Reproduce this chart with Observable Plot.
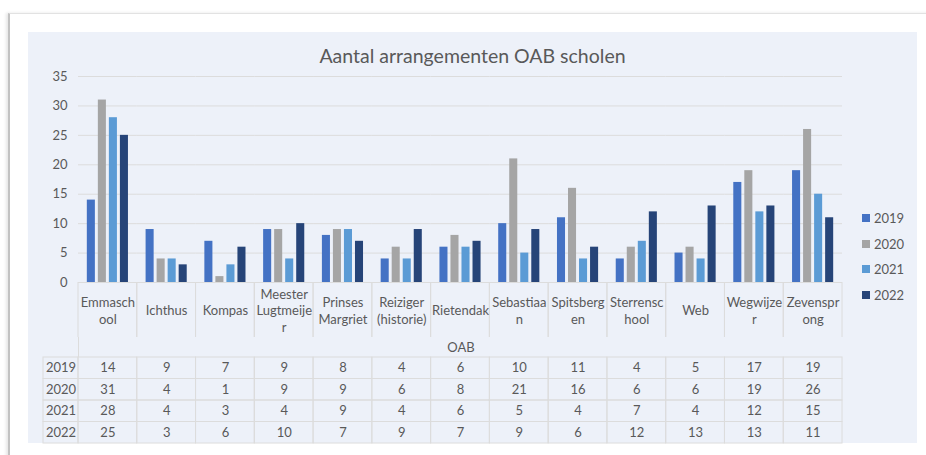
<!DOCTYPE html>
<html><head><meta charset="utf-8">
<script src="https://cdn.jsdelivr.net/npm/d3@7"></script>
<script src="https://cdn.jsdelivr.net/npm/@observablehq/plot@0.6"></script>
<style>
body{margin:0;background:#fff;width:926px;height:455px;overflow:hidden;position:relative;font-family:Lato,sans-serif;color:#595959;}
#frame{position:absolute;left:8px;top:13px;width:940px;height:460px;border-left:2px solid #c2c2c2;border-top:1px solid #e2e2e2;box-shadow:-2px 0 3px rgba(0,0,0,0.10);}
#bg{position:absolute;left:28px;top:32px;width:889px;height:411px;background:#edf1f9;}
.abs{position:absolute;}
#title{left:28px;width:889px;top:44px;text-align:center;font-size:19.5px;color:#595959;white-space:nowrap;}
#oab{left:78px;top:337px;width:764px;height:20px;line-height:20px;border-left:1px solid #dcdcdc;text-align:center;font-size:13px;}
#legend{left:862px;top:205px;font-size:13px;}
#legend .it{height:25.7px;display:flex;align-items:center;}
#legend .sw{width:8px;height:8px;margin-right:4px;}
</style></head>
<body>
<div id="frame"></div>
<div id="bg"></div>
<div id="title" class="abs">Aantal arrangementen OAB scholen</div>
<div id="pB" class="abs" style="left:28px;top:282px"></div>
<div id="oab" class="abs">OAB</div>
<div id="pC" class="abs" style="left:28px;top:356px"></div>
<div id="pD" class="abs" style="left:42px;top:356px"></div>
<div id="pA" class="abs" style="left:28px;top:66px"></div>
<div id="legend" class="abs"></div>
<script>
const schools = ["Emmaschool","Ichthus","Kompas","Meester Lugtmeijer","Prinses Margriet","Reiziger (historie)","Rietendak","Sebastiaan","Spitsbergen","Sterrenschool","Web","Wegwijzer","Zevensprong"];
const schoolLabels = ["Emmasch\nool","Ichthus","Kompas","Meester\nLugtmeije\nr","Prinses\nMargriet","Reiziger\n(historie)","Rietendak","Sebastiaa\nn","Spitsberg\nen","Sterrensc\nhool","Web","Wegwijze\nr","Zevenspr\nong"];
const years = ["2019","2020","2021","2022"];
const v2019 = [14,9,7,9,8,4,6,10,11,4,5,17,19];
const v2020 = [31,4,1,9,9,6,8,21,16,6,6,19,26];
const v2021 = [28,4,3,4,9,4,6,5,4,7,4,12,15];
const v2022 = [25,3,6,10,7,9,7,9,6,12,13,13,11];
const colors = ["#4472c4","#a5a5a5","#5b9bd5","#264478"];
const yTicks = [0,5,10,15,20,25,30,35];

const series = [v2019, v2020, v2021, v2022];
const tidy = schools.flatMap((s, i) => years.map((y, j) => ({school: s, year: y, value: series[j][i]})));
const grid = "#dcdcdc";
const style = {background: "transparent", fontFamily: "Lato", fontSize: "13px", color: "#595959"};

const A = Plot.plot({
  width: 889, height: 226, marginLeft: 50, marginRight: 75, marginTop: 10, marginBottom: 10,
  style,
  fx: {domain: schools, padding: 0, axis: null, round: false},
  x: {domain: years, paddingInner: 0.27, paddingOuter: 0.8, axis: null, round: false},
  y: {domain: [0, 35], label: null},
  color: {domain: years, range: colors},
  marks: [
    Plot.gridY(yTicks, {stroke: grid, strokeOpacity: 1}),
    Plot.axisY(yTicks, {tickSize: 0, tickPadding: 11, label: null}),
    Plot.barY(tidy, {fx: "school", x: "year", y: "value", fill: "year"})
  ]
});
document.getElementById("pA").append(A);

const B = Plot.plot({
  width: 889, height: 55, marginLeft: 50, marginRight: 75, marginTop: 0, marginBottom: 0,
  style,
  x: {domain: schools, padding: 0, axis: null, round: false},
  marks: [
    Plot.cell(schools, {x: d => d, fill: "none", stroke: grid, insetBottom: -3}),
    Plot.text(schools, {x: d => d, text: (d, i) => schoolLabels[i], lineHeight: 1.27, fill: "#595959"})
  ]
});
document.getElementById("pB").append(B);

const C = Plot.plot({
  width: 889, height: 88, marginLeft: 50, marginRight: 75, marginTop: 1, marginBottom: 1,
  style,
  x: {domain: schools, padding: 0, axis: null, round: false},
  y: {domain: years, padding: 0, axis: null, round: false},
  marks: [
    Plot.cell(tidy, {x: "school", y: "year", fill: "none", stroke: grid}),
    Plot.text(tidy, {x: "school", y: "year", text: "value", fill: "#595959"})
  ]
});
document.getElementById("pC").append(C);

const D = Plot.plot({
  width: 37, height: 88, marginLeft: 1, marginRight: 1, marginTop: 1, marginBottom: 1,
  style,
  y: {domain: years, padding: 0, axis: null, round: false},
  marks: [
    Plot.cell(years, {y: d => d, fill: "none", stroke: grid}),
    Plot.text(years, {y: d => d, text: d => d, fill: "#595959"})
  ]
});
document.getElementById("pD").append(D);

const leg = document.getElementById("legend");
years.forEach((y, i) => {
  const it = document.createElement("div"); it.className = "it";
  const sw = document.createElement("span"); sw.className = "sw"; sw.style.background = colors[i];
  const t = document.createElement("span"); t.textContent = y;
  it.append(sw, t); leg.append(it);
});
</script>
</body></html>
